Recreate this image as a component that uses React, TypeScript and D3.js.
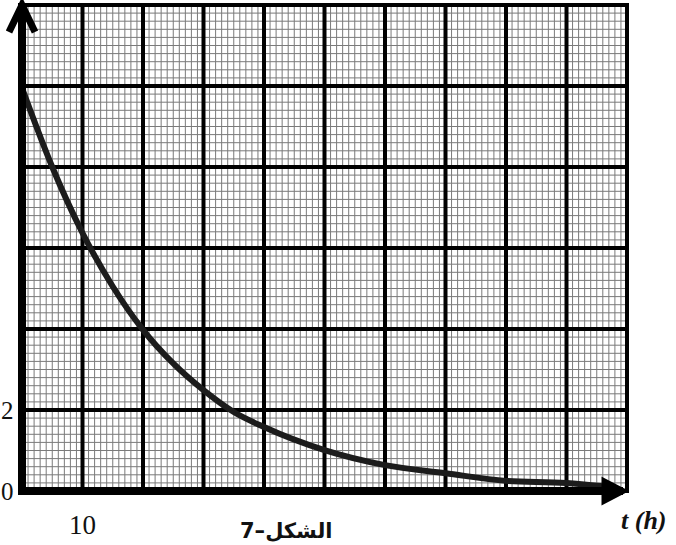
import React from "react";
import * as d3 from "d3";

// Data
const timeH = [0, 5, 10, 15, 20, 25, 30, 35, 40, 50, 60, 70, 80, 90, 96];
const values = [9.95, 8.0, 6.37, 5.05, 3.98, 3.15, 2.49, 1.95, 1.58, 1.01, 0.64, 0.44, 0.25, 0.2, 0.12];
const xTickLabels = [10];
const yTickLabels = [0, 2];
const xDomain = [0, 100];
const yDomain = [0, 12];
const xMajorStep = 10;
const xMinorStep = 1;
const yMajorStep = 2;
const yMinorStep = 0.2;
const figureTitle = "7–الشكل";
const xAxisTitle = "t (h)";

const W = 676;
const H = 545;
const L = 22, R = 627, T = 5, B = 491;

export default function App() {
  const x = d3.scaleLinear().domain(xDomain).range([L, R]);
  const y = d3.scaleLinear().domain(yDomain).range([B, T]);

  const xMinor = d3.range(xDomain[0], xDomain[1] + 1e-9, xMinorStep);
  const yMinor = d3.range(yDomain[0], yDomain[1] + 1e-9, yMinorStep);
  const xMajor = d3.range(xDomain[0], xDomain[1] + 1e-9, xMajorStep);
  const yMajor = d3.range(yDomain[0], yDomain[1] + 1e-9, yMajorStep);

  const line = d3
    .line<number>()
    .x((_, i) => x(timeH[i]))
    .y((d) => y(d))
    .curve(d3.curveMonotoneX);

  return (
    <svg width={W} height={H} style={{ position: "absolute", left: 0, top: 0, background: "#fff" }}>
      <g>
        {xMinor.map((v, i) => (
          <line key={"xm" + i} x1={x(v)} x2={x(v)} y1={T} y2={B} stroke="#7a7a7a" strokeWidth={1} />
        ))}
        {yMinor.map((v, i) => (
          <line key={"ym" + i} x1={L} x2={R} y1={y(v)} y2={y(v)} stroke="#7a7a7a" strokeWidth={1} />
        ))}
        {xMajor.map((v, i) => (
          <line key={"xM" + i} x1={x(v)} x2={x(v)} y1={T - 2} y2={B} stroke="#000" strokeWidth={4} />
        ))}
        {yMajor.map((v, i) => (
          <line key={"yM" + i} x1={L} x2={R + 2} y1={y(v)} y2={y(v)} stroke="#000" strokeWidth={4} />
        ))}
      </g>
      {/* curve */}
      <path d={line(values) || ""} fill="none" stroke="#1c1c1c" strokeWidth={6} strokeLinecap="round" />
      {/* axes */}
      <line x1={x(0)} x2={x(0)} y1={B + 4} y2={T - 2} stroke="#000" strokeWidth={8} />
      <line x1={L - 4} x2={R - 4} y1={y(0)} y2={y(0)} stroke="#000" strokeWidth={8} />
      <path d={`M${x(0) - 13},${T + 27} L${x(0)},${T} L${x(0) + 13},${T + 27}`} fill="none" stroke="#000" strokeWidth={7} strokeLinejoin="miter" />
      <path d={`M${R - 24},${B - 12} L${R - 1},${B} L${R - 24},${B + 12} Z`} fill="#000" stroke="#000" strokeWidth={3} />
      {/* labels */}
      {yTickLabels.map((v) => (
        <text key={"yl" + v} x={1} y={y(v) + 9} fontFamily="Liberation Serif, serif" fontSize={25} fill="#111">
          {v}
        </text>
      ))}
      {xTickLabels.map((v) => (
        <text key={"xl" + v} x={x(v)} y={534} textAnchor="middle" fontFamily="Liberation Serif, serif" fontSize={27} fill="#111">
          {v}
        </text>
      ))}
      <text x={240} y={538} fontFamily="DejaVu Sans, sans-serif" fontWeight="bold" fontSize={21} fill="#111">
        {figureTitle}
      </text>
      <text x={621} y={529} fontFamily="Liberation Serif, serif" fontStyle="italic" fontWeight="bold" fontSize={26} fill="#111">
        {xAxisTitle}
      </text>
    </svg>
  );
}
